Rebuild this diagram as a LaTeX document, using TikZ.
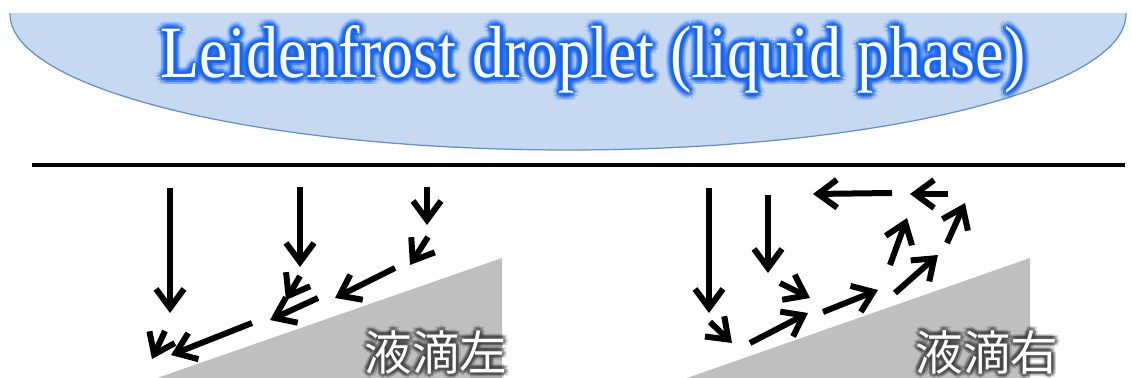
\documentclass[tikz,border=0pt]{standalone}
\usepackage{fontspec}
\usepackage{graphicx}
\newfontfamily\titlefont{Liberation Serif}
\newfontfamily\cjk{Noto Sans CJK JP}
\usetikzlibrary{arrows.meta}

\definecolor{dropfill}{RGB}{198,217,240}
\definecolor{dropline}{RGB}{90,145,215}
\definecolor{glowblue}{RGB}{20,100,245}

\tikzset{
  flow/.style={line width=0.12cm, -{Straight Barb[length=0.38cm,width=0.56cm]}},
  ramp/.style={fill=gray!50, draw=none},
  title/.style={font={\titlefont\fontsize{42}{44}\selectfont}, inner sep=0pt, anchor=base},
  side/.style={font={\cjk\fontsize{27}{30}\selectfont}, inner sep=0pt},
}

\begin{document}
\begin{tikzpicture}[x=0.02cm, y=-0.02cm]
    \useasboundingbox (0,0) rectangle (1132,378);

    % Droplet (lower half of an ellipse, cut flat on top)
    \begin{scope}
        \clip (0,14) rectangle (1132,378);
        \filldraw[fill=dropfill, draw=dropline, line width=0.7pt] (568,14) ellipse [x radius=558, y radius=136];
    \end{scope}

    % Title with a blue glow behind the white letters
    \foreach \r/\o in {7/0.14, 5/0.25, 3/0.45}
        \foreach \a in {0,30,...,330}
            \node[title, text=glowblue, text opacity=\o] (glow-\r-\a) at ([shift={(\a:\r)}]593,78) {\scalebox{0.87}[1]{Leidenfrost droplet (liquid phase)}};
    \node[title, text=white] (title) at (593,78) {\scalebox{0.87}[1]{Leidenfrost droplet (liquid phase)}};

    % Hot plate surface
    \draw[line width=0.08cm] (32,165) -- (1125,165);

    % Ramps
    \fill[ramp] (157,378) -- (502,258) -- (502,378) -- cycle;
    \fill[ramp] (687,378) -- (1030,258) -- (1030,378) -- cycle;

    % Labels with a dark glow
    \foreach \r/\o in {5/0.2, 3/0.4}
        \foreach \a in {0,45,...,315} {
            \node[side, text=black!75, text opacity=\o] (lglow-\r-\a) at ([shift={(\a:\r)}]436,352) {液滴左};
            \node[side, text=black!75, text opacity=\o] (rglow-\r-\a) at ([shift={(\a:\r)}]987,352) {液滴右};
        }
    \node[side, text=white] (lleft) at (436,352) {液滴左};
    \node[side, text=white] (lright) at (987,352) {液滴右};

    % Left: vapour flows down the slope
    \coordinate (a1s) at (170,188);  \coordinate (a1e) at (170,313);
    \coordinate (a2s) at (300,187);  \coordinate (a2e) at (300,267);
    \coordinate (a3s) at (427,187);  \coordinate (a3e) at (427,225);
    \coordinate (a4s) at (428,237);  \coordinate (a4e) at (410,265);
    \coordinate (a5s) at (395,268);  \coordinate (a5e) at (335,298);
    \coordinate (a6s) at (300,276);  \coordinate (a6e) at (286,300);
    \coordinate (a7s) at (318,298);  \coordinate (a7e) at (270,320);
    \coordinate (a8s) at (252,323);  \coordinate (a8e) at (171,355);
    \coordinate (a9s) at (165,331);  \coordinate (a9e) at (152,359);

    \draw[flow] (a1s) -- (a1e);
    \draw[flow] (a2s) -- (a2e);
    \draw[flow] (a3s) -- (a3e);
    \draw[flow] (a4s) -- (a4e);
    \draw[flow] (a5s) -- (a5e);
    \draw[flow] (a6s) -- (a6e);
    \draw[flow] (a7s) -- (a7e);
    \draw[flow] (a8s) -- (a8e);
    \draw[flow] (a9s) -- (a9e);

    % Right: vapour flows up the slope and back
    \coordinate (b1s) at (709,188);  \coordinate (b1e) at (709,313);
    \coordinate (b2s) at (768,195);  \coordinate (b2e) at (768,273);
    \coordinate (b3s) at (710,322);  \coordinate (b3e) at (732,343);
    \coordinate (b4s) at (780,283);  \coordinate (b4e) at (810,298);
    \coordinate (b5s) at (750,343);  \coordinate (b5e) at (808,313);
    \coordinate (b6s) at (823,312);  \coordinate (b6e) at (878,290);
    \coordinate (b7s) at (895,293);  \coordinate (b7e) at (938,255);
    \coordinate (b8s) at (890,265);  \coordinate (b8e) at (907,218);
    \coordinate (b9s) at (947,243);  \coordinate (b9e) at (965,203);
    \coordinate (b10s) at (892,193); \coordinate (b10e) at (813,194);
    \coordinate (b11s) at (948,194); \coordinate (b11e) at (910,194);

    \draw[flow] (b1s) -- (b1e);
    \draw[flow] (b2s) -- (b2e);
    \draw[flow] (b3s) -- (b3e);
    \draw[flow] (b4s) -- (b4e);
    \draw[flow] (b5s) -- (b5e);
    \draw[flow] (b6s) -- (b6e);
    \draw[flow] (b7s) -- (b7e);
    \draw[flow] (b8s) -- (b8e);
    \draw[flow] (b9s) -- (b9e);
    \draw[flow] (b10s) -- (b10e);
    \draw[flow] (b11s) -- (b11e);

\end{tikzpicture}
\end{document}
